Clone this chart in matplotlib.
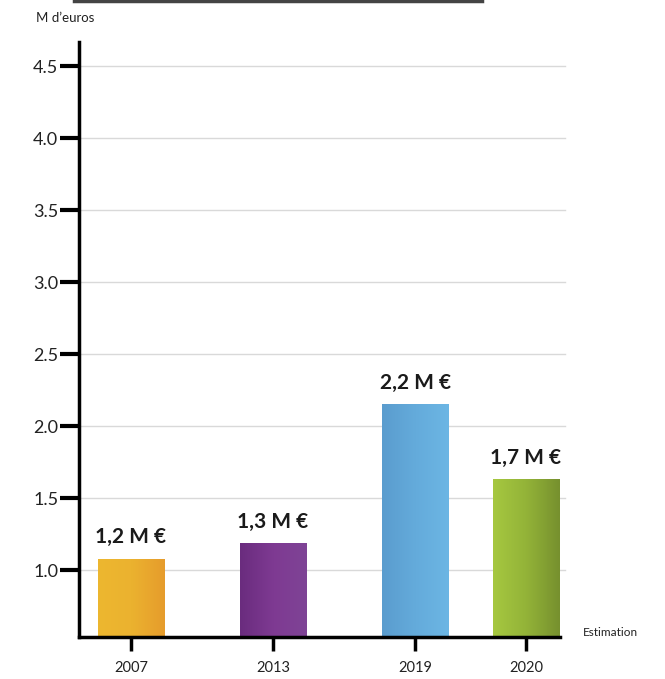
import matplotlib
matplotlib.use("Agg")
import matplotlib.pyplot as plt
import numpy as np
from matplotlib.colors import LinearSegmentedColormap
from matplotlib.lines import Line2D

plt.rcParams['font.family'] = ['Lato', 'DejaVu Sans']

# ---- data ----
years = ["2007", "2013", "2019", "2020"]
values = [1.08, 1.19, 2.15, 1.63]
bar_labels = ["1,2 M €", "1,3 M €", "2,2 M €", "1,7 M €"]
y_ticks = [1.0, 1.5, 2.0, 2.5, 3.0, 3.5, 4.0, 4.5]
y_tick_labels = ["1.0", "1.5", "2.0", "2.5", "3.0", "3.5", "4.0", "4.5"]
unit_label = "M d’euros"
note_label = "Estimation"

# ---- layout / style ----
x_pos = [0.0, 1.0, 2.0, 2.78]
bar_width = 0.47
gradients = [
    ["#EDB730", "#EBB22F", "#E69C2C"],
    ["#6A2C7E", "#7E3A92", "#7F4496"],
    ["#5A9CCE", "#64ABDB", "#6CB6E4"],
    ["#A6C840", "#93B338", "#76902E"],
]

fig = plt.figure(figsize=(6.65, 6.79), dpi=100)
ax = fig.add_axes([79/665, 1-637/679, (560-79)/665, (637-42)/679])
ax.set_ylim(0.535, 4.667)
ax.set_xlim(-0.366, 3.02)

for yt in y_ticks:
    ax.axhline(yt, color="#D9D9D9", lw=1.0, zorder=0, xmax=1.01, clip_on=False)

bars = ax.bar(x_pos, values, width=bar_width, color="none", zorder=2)
grad = np.linspace(0, 1, 256).reshape(1, -1)
for b, cols in zip(bars, gradients):
    cmap = LinearSegmentedColormap.from_list("g", cols)
    x0, y0 = b.get_x(), b.get_y()
    w, h = b.get_width(), b.get_height()
    im = ax.imshow(grad, cmap=cmap, aspect="auto",
                   extent=[x0, x0 + w, ax.get_ylim()[0], y0 + h], zorder=2)
    im.set_clip_path(b)
ax.set_ylim(0.535, 4.667)
ax.set_xlim(-0.366, 3.02)

for xp, v, lab in zip(x_pos, values, bar_labels):
    ax.annotate(lab, (xp, v), xytext=(0, 8), textcoords="offset points",
                ha="center", va="bottom", fontsize=15, fontweight="bold",
                color="#1a1a1a")

ax.set_yticks(y_ticks)
ax.set_yticklabels(y_tick_labels, fontsize=13, color="#222222")
ax.set_xticks(x_pos)
ax.set_xticklabels(years, fontsize=10.5, color="#222222")
ax.tick_params(axis="y", direction="out", length=14, width=3, pad=1, color="black")
ax.tick_params(axis="x", direction="out", length=10, width=2.5, pad=7, color="black")

for s in ["top", "right"]:
    ax.spines[s].set_visible(False)
ax.spines["left"].set_linewidth(2.5)
ax.spines["bottom"].set_linewidth(2.5)

fig.text(36/665, 1-18/679, unit_label, fontsize=9.5, color="#222222",
         ha="left", va="center")
fig.text(583/665, 1-632/679, note_label, fontsize=8.5, color="#222222",
         ha="left", va="center")
fig.add_artist(Line2D([74/665, 482/665], [1-1/679, 1-1/679],
                      color="#444444", lw=2.5, transform=fig.transFigure))

fig.savefig("out.png", dpi=100)
